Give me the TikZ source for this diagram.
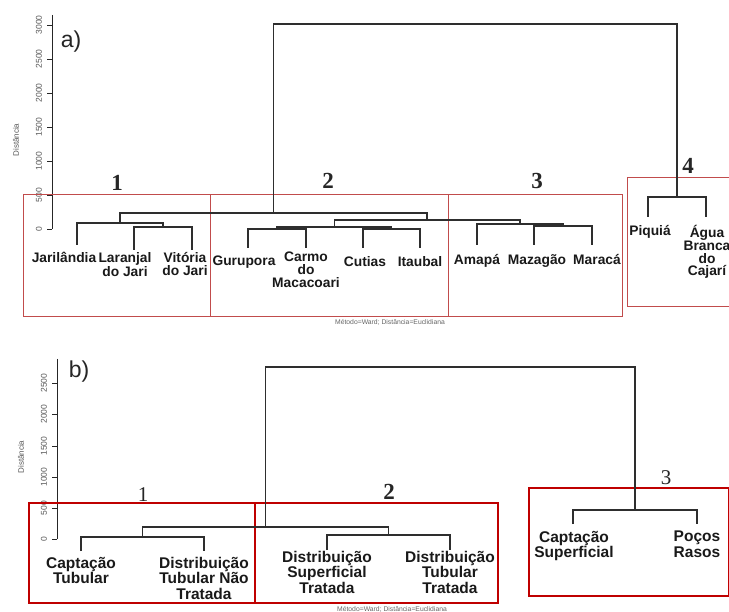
\documentclass[tikz,border=0pt]{standalone}
\usepackage{fontspec}
\setmainfont{Liberation Sans}
\newfontfamily\numserif{Liberation Serif}
\begin{document}
\begin{tikzpicture}[x=1pt,y=-1pt,
  dend/.style={draw=black!82, line width=1.15pt},
  boxa/.style={draw=red!65!black!70!white, line width=0.9pt},
  boxb/.style={draw=red!75!black, line width=1.2pt},
  axisline/.style={draw=black!85, line width=0.9pt},
  ticklbl/.style={font=\fontsize{8.5}{8.5}\selectfont, text=black!65, rotate=90, inner sep=0pt},
  ylbl/.style={font=\fontsize{8}{8}\selectfont, text=black!65, rotate=90, inner sep=0pt},
  leafa/.style={font=\fontsize{13.8}{12.8}\selectfont\bfseries, align=center, anchor=north, inner sep=0pt, text=black!90},
  leafb/.style={font=\fontsize{15.5}{15.5}\selectfont\bfseries, align=center, anchor=north, inner sep=0pt, text=black!90},
  grpnum/.style={font=\numserif\bfseries\fontsize{23}{23}\selectfont, inner sep=0pt, text=black!85},
  grpnumb/.style={font=\numserif\fontsize{21}{21}\selectfont, inner sep=0pt, text=black!85},
  panel/.style={font=\fontsize{23}{23}\selectfont, inner sep=0pt, text=black!85},
  caption/.style={font=\fontsize{6.8}{6.8}\selectfont, text=black!60, inner sep=0pt}]
\useasboundingbox (0,0) rectangle (729,612);
\fill[white] (0,0) rectangle (729,612);

% ================= Panel a =================
\coordinate (aAxT) at (52,15);
\coordinate (aAxB) at (52,229);
\draw[axisline] (aAxT) -- (aAxB);
\foreach \v/\yy in {0/229,500/195,1000/161,1500/127,2000/93,2500/59,3000/25}{
  \draw[axisline] (47,\yy) -- (52,\yy);
  \node[ticklbl] (atick\v) at (39,\yy) {\v};
}
\node[ylbl] (aylab) at (16,140) {Distância};
\node[panel] (apanel) at (71,42) {a)};

\draw[boxa] (23,194) rectangle (210,316);
\draw[boxa] (210,194) rectangle (448,316);
\draw[boxa] (448,194) rectangle (622,316);
\draw[boxa] (627,177) rectangle (729,306);

\node[grpnum] (ag1) at (117,183) {1};
\node[grpnum] (ag2) at (328,181) {2};
\node[grpnum] (ag3) at (537,181) {3};
\node[grpnum] (ag4) at (688,166) {4};

\coordinate (aJar) at (77,245);
\coordinate (aLar) at (134,250);
\coordinate (aVit) at (192,250);
\coordinate (aLV) at (163,227);
\coordinate (aC1) at (120,223);
\coordinate (aGur) at (248,248);
\coordinate (aCar) at (306,248);
\coordinate (aCut) at (363,248);
\coordinate (aIta) at (420,248);
\coordinate (aGC) at (277,229);
\coordinate (aCI) at (391.5,229);
\coordinate (aC2) at (334.25,227);
\coordinate (aAma) at (477,245);
\coordinate (aMaz) at (534,245);
\coordinate (aMar) at (592,245);
\coordinate (aMM) at (563,226);
\coordinate (aC3) at (520,224);
\coordinate (aC23) at (427,220);
\coordinate (aC123) at (273.5,213);
\coordinate (aPiq) at (648,217);
\coordinate (aAgu) at (706,217);
\coordinate (aC4) at (677,197);
\coordinate (aRoot) at (475,24);

\draw[dend] (aLar) |- (aLV) -| (aVit);
\draw[dend] (aJar) |- (aC1) -| (aLV);
\draw[dend] (aGur) |- (aGC) -| (aCar);
\draw[dend] (aCut) |- (aCI) -| (aIta);
\draw[dend] (aGC) |- (aC2) -| (aCI);
\draw[dend] (aMaz) |- (aMM) -| (aMar);
\draw[dend] (aAma) |- (aC3) -| (aMM);
\draw[dend] (aC2) |- (aC23) -| (aC3);
\draw[dend] (aC1) |- (aC123) -| (aC23);
\draw[dend] (aPiq) |- (aC4) -| (aAgu);
\draw[dend] (aC123) |- (aRoot) -| (aC4);

\node[leafa] (lJar) at (64,252) {Jarilândia};
\node[leafa] (lLar) at (125,252) {Laranjal\\do Jari};
\node[leafa] (lVit) at (185,252) {Vitória\\do Jari};
\node[leafa] (lGur) at (244,256) {Gurupora};
\node[leafa] (lCar) at (306,252) {Carmo\\do\\Macacoari};
\node[leafa] (lCut) at (365,256) {Cutias};
\node[leafa] (lIta) at (420,256) {Itaubal};
\node[leafa] (lAma) at (477,254) {Amapá};
\node[leafa] (lMaz) at (537,254) {Mazagão};
\node[leafa] (lMar) at (597,254) {Maracá};
\node[leafa] (lPiq) at (650,225) {Piquiá};
\node[leafa] (lAgu) at (707,225) {Água\\Branca\\do\\Cajarí};

\node[caption] (acap) at (390,322) {Método=Ward; Distância=Euclidiana};

% ================= Panel b =================
\coordinate (bAxT) at (57,359);
\coordinate (bAxB) at (57,539);
\draw[axisline] (bAxT) -- (bAxB);
\foreach \v/\yy in {0/539,500/508,1000/477,1500/446,2000/414,2500/383}{
  \draw[axisline] (52,\yy) -- (57,\yy);
  \node[ticklbl] (btick\v) at (44,\yy) {\v};
}
\node[ylbl] (bylab) at (21,457) {Distância};
\node[panel] (bpanel) at (79,372) {b)};

\draw[boxb] (29,503) rectangle (255,603);
\draw[boxb] (255,503) rectangle (498,603);
\draw[boxb] (529,488) rectangle (729,596);

\node[grpnumb] (bg1) at (143,495) {1};
\node[grpnum] (bg2) at (389,492) {2};
\node[grpnumb] (bg3) at (666,478) {3};

\coordinate (bCT) at (81,551);
\coordinate (bDTNT) at (204,551);
\coordinate (bDST) at (327,550);
\coordinate (bDTT) at (450,550);
\coordinate (bCS) at (573,524);
\coordinate (bPR) at (697,524);
\coordinate (bC1) at (142.5,537);
\coordinate (bC2) at (388.5,535);
\coordinate (bC12) at (265.5,527);
\coordinate (bC3) at (635,510);
\coordinate (bRoot) at (450,367);

\draw[dend] (bCT) |- (bC1) -| (bDTNT);
\draw[dend] (bDST) |- (bC2) -| (bDTT);
\draw[dend] (bC1) |- (bC12) -| (bC2);
\draw[dend] (bCS) |- (bC3) -| (bPR);
\draw[dend] (bC12) |- (bRoot) -| (bC3);

\node[leafb] (lCT) at (81,557) {Captação\\Tubular};
\node[leafb] (lDTNT) at (204,557) {Distribuição\\Tubular Não\\Tratada};
\node[leafb] (lDST) at (327,551) {Distribuição\\Superficial\\Tratada};
\node[leafb] (lDTT) at (450,551) {Distribuição\\Tubular\\Tratada};
\node[leafb] (lCS) at (574,531) {Captação\\Superficial};
\node[leafb] (lPR) at (697,531) {Poços\\Rasos};

\node[caption] (bcap) at (392,609) {Método=Ward; Distância=Euclidiana};
\end{tikzpicture}
\end{document}
